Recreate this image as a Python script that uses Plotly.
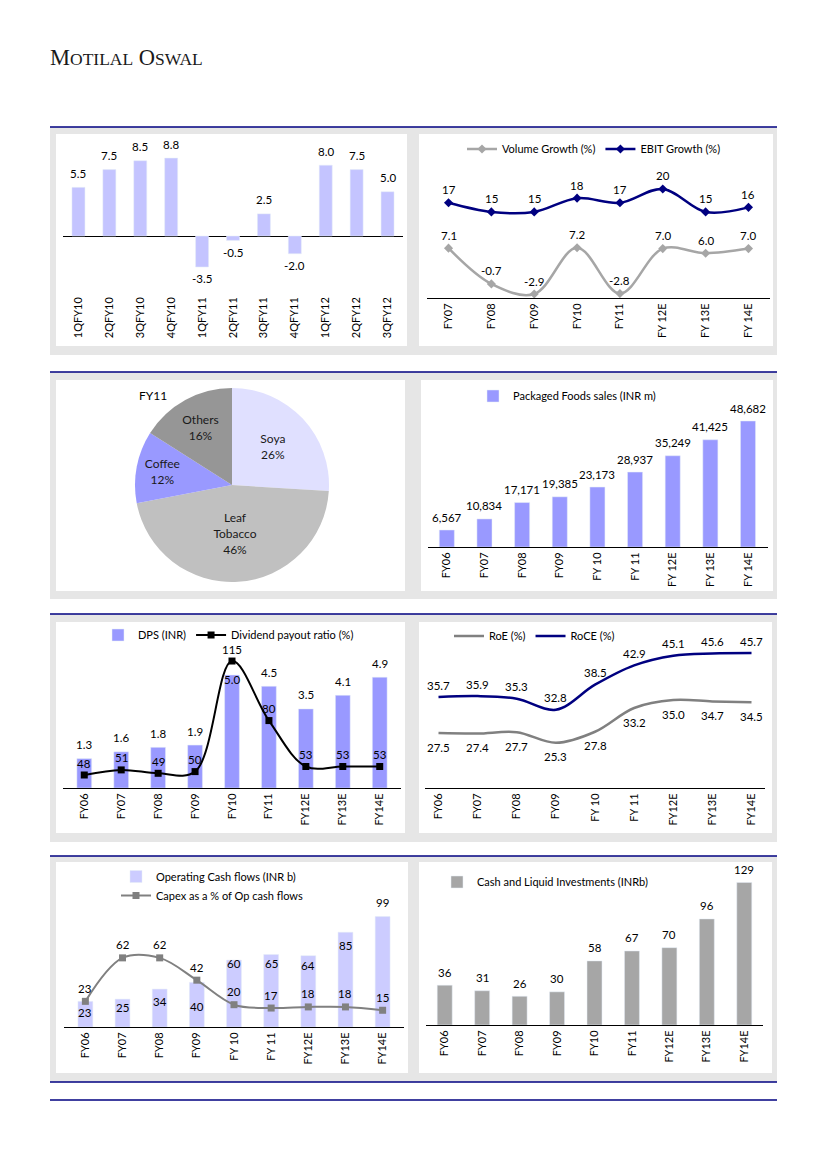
import plotly.graph_objects as go

W, H = 826, 1169
OFF = 8  # page body margin


def px(x):
    return (x - OFF) / W


def py(y):
    return 1 - (y - OFF) / H


def yrange(v0, p0, s, top, bot):
    # value v0 sits at pixel p0, s pixels per unit, domain from top to bot (pixels)
    return [v0 - (bot - p0) / s, v0 + (p0 - top) / s]


# ---------------- data ----------------
q_labels = ["1QFY10", "2QFY10", "3QFY10", "4QFY10", "1QFY11", "2QFY11",
            "3QFY11", "4QFY11", "1QFY12", "2QFY12", "3QFY12"]
q_growth = [5.5, 7.5, 8.5, 8.8, -3.5, -0.5, 2.5, -2.0, 8.0, 7.5, 5.0]

yr_growth = ["FY07", "FY08", "FY09", "FY10", "FY11", "FY 12E", "FY 13E", "FY 14E"]
vol_growth = [7.1, -0.7, -2.9, 7.2, -2.8, 7.0, 6.0, 7.0]
ebit_growth = [17, 15, 15, 18, 17, 20, 15, 16]

seg_labels = ["Soya", "Leaf<br>Tobacco", "Coffee", "Others"]
seg_share = [26, 46, 12, 16]

yr_pf = ["FY06", "FY07", "FY08", "FY09", "FY 10", "FY 11", "FY 12E", "FY 13E", "FY 14E"]
pf_sales = [6567, 10834, 17171, 19385, 23173, 28937, 35249, 41425, 48682]

yr_dps = ["FY06", "FY07", "FY08", "FY09", "FY10", "FY11", "FY12E", "FY13E", "FY14E"]
dps = [1.3, 1.6, 1.8, 1.9, 5.0, 4.5, 3.5, 4.1, 4.9]
payout = [48, 51, 49, 50, 115, 80, 53, 53, 53]

yr_ret = ["FY06", "FY07", "FY08", "FY09", "FY 10", "FY 11", "FY12E", "FY13E", "FY14E"]
roe = [27.5, 27.4, 27.7, 25.3, 27.8, 33.2, 35.0, 34.7, 34.5]
roce = [35.7, 35.9, 35.3, 32.8, 38.5, 42.9, 45.1, 45.6, 45.7]

yr_ocf = ["FY06", "FY07", "FY08", "FY09", "FY 10", "FY 11", "FY12E", "FY13E", "FY14E"]
ocf = [23, 25, 34, 40, 60, 65, 64, 85, 99]
capex_pct = [23, 62, 62, 42, 20, 17, 18, 18, 15]

yr_cash = ["FY06", "FY07", "FY08", "FY09", "FY10", "FY11", "FY12E", "FY13E", "FY14E"]
cash = [36, 31, 26, 30, 58, 67, 70, 96, 129]

# label offsets (style)
dps_shift = [14, 14, 14, 14, -4, 14, 14, 14, 14]
ocf_shift = [-11, -8, -12, -24, -3, -9, -10, -13, 14]

FONT = "Lato"
NAVY = "#000080"
LBL = 11.5

fig = go.Figure()

# ---------- panel 1: quarterly growth ----------
fig.add_trace(go.Bar(x=q_labels, y=q_growth, marker_color="#C4C4FF", width=0.42,
                     xaxis="x", yaxis="y", showlegend=False, hoverinfo="skip"))

# ---------- panel 2: volume / EBIT growth ----------
fig.add_trace(go.Scatter(x=yr_growth, y=vol_growth, name="Volume Growth (%)",
                         mode="lines+markers", line=dict(color="#A6A6A6", width=2.5, shape="spline"),
                         marker=dict(symbol="diamond", size=7, color="#A6A6A6"),
                         xaxis="x2", yaxis="y2", legend="legend", hoverinfo="skip"))
fig.add_trace(go.Scatter(x=yr_growth, y=ebit_growth, name="EBIT Growth (%)",
                         mode="lines+markers", line=dict(color=NAVY, width=2.5, shape="spline"),
                         marker=dict(symbol="diamond", size=7, color=NAVY),
                         xaxis="x2", yaxis="y2", legend="legend", hoverinfo="skip"))

# ---------- panel 3: pie ----------
fig.add_trace(go.Pie(labels=seg_labels, values=seg_share, sort=False, direction="clockwise",
                     rotation=0, showlegend=False, hoverinfo="skip",
                     marker=dict(colors=["#E0E0FF", "#C0C0C0", "#9999FF", "#969696"],
                                 line=dict(width=0)),
                     textinfo="label+percent", textposition="inside",
                     insidetextorientation="horizontal",
                     textfont=dict(size=12, color="#1a1a1a", family=FONT),
                     domain=dict(x=[px(135), px(329)], y=[py(582), py(388)])))

# ---------- panel 4: packaged foods ----------
fig.add_trace(go.Bar(x=yr_pf, y=pf_sales, name="Packaged Foods sales (INR m)",
                     marker_color="#9999FF", width=0.4, xaxis="x3", yaxis="y3",
                     legend="legend2", hoverinfo="skip"))

# ---------- panel 5: DPS / payout ----------
fig.add_trace(go.Bar(x=yr_dps, y=dps, name="DPS (INR)", marker_color="#9999FF", width=0.4,
                     xaxis="x4", yaxis="y4", legend="legend3", hoverinfo="skip"))
fig.add_trace(go.Scatter(x=yr_dps, y=payout, name="Dividend payout ratio (%)",
                         mode="lines+markers", line=dict(color="black", width=2, shape="spline"),
                         marker=dict(symbol="square", size=7, color="black"),
                         xaxis="x4", yaxis="y5", legend="legend3", hoverinfo="skip"))

# ---------- panel 6: RoE / RoCE ----------
fig.add_trace(go.Scatter(x=yr_ret, y=roe, name="RoE (%)", mode="lines",
                         line=dict(color="#808080", width=2.5, shape="spline"),
                         xaxis="x6", yaxis="y6", legend="legend4", hoverinfo="skip"))
fig.add_trace(go.Scatter(x=yr_ret, y=roce, name="RoCE (%)", mode="lines",
                         line=dict(color=NAVY, width=2.5, shape="spline"),
                         xaxis="x6", yaxis="y6", legend="legend4", hoverinfo="skip"))

# ---------- panel 7: OCF / capex ----------
fig.add_trace(go.Bar(x=yr_ocf, y=ocf, name="Operating Cash flows (INR b)", marker_color="#CCCCFF",
                     width=0.4, xaxis="x7", yaxis="y7", legend="legend5", hoverinfo="skip"))
fig.add_trace(go.Scatter(x=yr_ocf, y=capex_pct, name="Capex as a % of Op cash flows",
                         mode="lines+markers", line=dict(color="#808080", width=2, shape="spline"),
                         marker=dict(symbol="square", size=7, color="#808080"),
                         xaxis="x7", yaxis="y7", legend="legend5", hoverinfo="skip"))

# ---------- panel 8: cash ----------
fig.add_trace(go.Bar(x=yr_cash, y=cash, name="Cash and Liquid Investments (INRb)",
                     marker_color="#A6A6A6", width=0.4, xaxis="x8", yaxis="y8",
                     legend="legend6", hoverinfo="skip"))


# ---------- axes ----------
def xax(x0, x1, anchor, line=True):
    return dict(domain=[px(x0), px(x1)], anchor=anchor, showline=line, linecolor="black",
                linewidth=1, ticks="", showgrid=False, zeroline=False, tickangle=-90,
                tickfont=dict(size=11, color="black", family=FONT), fixedrange=True)


def yax(rng, top, bot, anchor, zero=False):
    return dict(domain=[py(bot), py(top)], range=rng, anchor=anchor, showticklabels=False,
                showgrid=False, ticks="", showline=False, zeroline=zero,
                zerolinecolor="black", zerolinewidth=1, fixedrange=True)


layout_axes = dict(
    xaxis=xax(63, 403, "y", line=False),
    yaxis=yax(yrange(0, 236, 8.85, 140, 294), 140, 294, "x", zero=True),
    xaxis2=xax(427, 770, "y2"),
    yaxis2=yax(yrange(0, 280.7, 4.585, 160, 298), 160, 298, "x2"),
    xaxis3=xax(428, 768, "y3"),
    yaxis3=yax(yrange(0, 547, 0.002588, 385, 547), 385, 547, "x3"),
    xaxis4=xax(63, 401, "y4"),
    yaxis4=yax(yrange(0, 788, 22.6, 652, 788), 652, 788, "x4"),
    yaxis5=dict(overlaying="y4", anchor="x4", side="right", range=yrange(48, 775, 1.701, 652, 788),
                showticklabels=False, showgrid=False, ticks="", showline=False, zeroline=False,
                fixedrange=True),
    xaxis6=xax(425, 765, "y6"),
    yaxis6=yax(yrange(35.7, 697, 4.4, 634, 788), 634, 788, "x6"),
    xaxis7=xax(64, 404, "y7"),
    yaxis7=yax(yrange(0, 1027, 1.115, 893, 1027), 893, 1027, "x7"),
    xaxis8=xax(426, 763, "y8"),
    yaxis8=yax(yrange(0, 1025, 1.105, 870, 1025), 870, 1025, "x8"),
)


def leg(x, y, orient="h"):
    return dict(x=px(x), y=py(y), xanchor="left", yanchor="middle", orientation=orient,
                bgcolor="rgba(0,0,0,0)", font=dict(size=11, color="black", family=FONT),
                itemwidth=30, tracegroupgap=0)


layout_legends = dict(
    legend=leg(462, 149),
    legend2=leg(473, 396),
    legend3=leg(98, 635),
    legend4=leg(449, 636),
    legend5=dict(leg(116, 886, "v")),
    legend6=leg(437, 882),
)

# ---------- background shapes ----------
shapes = []
rows = [
    (127, 355, 134, 346, (56, 407), (419, 773)),
    (372, 599, 380, 591, (56, 405), (421, 773)),
    (614, 842, 622, 833, (56, 405), (419, 772)),
    (856, 1082, 862, 1073, (56, 408), (419, 772)),
]
for line_y, gb, wt, wb, lx, rx in rows:
    shapes.append(dict(type="rect", xref="paper", yref="paper", x0=px(50), x1=px(777),
                       y0=py(gb), y1=py(line_y), fillcolor="#E6E6E6", line_width=0, layer="below"))
    for (a, b) in (lx, rx):
        shapes.append(dict(type="rect", xref="paper", yref="paper", x0=px(a), x1=px(b),
                           y0=py(wb), y1=py(wt), fillcolor="white", line_width=0, layer="below"))
for ly in [127, 372, 614, 856, 1082, 1100]:
    shapes.append(dict(type="line", xref="paper", yref="paper", x0=px(50), x1=px(777),
                       y0=py(ly), y1=py(ly), line=dict(color=NAVY, width=1.6), layer="below"))

# ---------- annotations ----------
ann = []


def add_labels(xref, yref, xs, ys, texts, shifts):
    for x, y, t, s in zip(xs, ys, texts, shifts):
        ann.append(dict(x=x, y=y, xref=xref, yref=yref, text=t, showarrow=False, yshift=s,
                        xanchor="center", yanchor="middle",
                        font=dict(size=LBL, color="black", family=FONT)))


add_labels("x", "y", q_labels, q_growth, [f"{v:.1f}" for v in q_growth],
           [14 if v >= 0 else -12 for v in q_growth])
add_labels("x2", "y2", yr_growth, ebit_growth, [f"{v:.0f}" for v in ebit_growth], [13] * 8)
add_labels("x2", "y2", yr_growth, vol_growth, [f"{v:.1f}" for v in vol_growth], [13] * 8)
add_labels("x3", "y3", yr_pf, pf_sales, [f"{v:,.0f}" for v in pf_sales], [13] * 9)
add_labels("x4", "y4", yr_dps, dps, [f"{v:.1f}" for v in dps], dps_shift)
add_labels("x4", "y5", yr_dps, payout, [f"{v:.0f}" for v in payout], [12] * 9)
add_labels("x6", "y6", yr_ret, roce, [f"{v:.1f}" for v in roce], [12] * 9)
add_labels("x6", "y6", yr_ret, roe, [f"{v:.1f}" for v in roe], [-14] * 9)
add_labels("x7", "y7", yr_ocf, ocf, [f"{v:.0f}" for v in ocf], ocf_shift)
add_labels("x7", "y7", yr_ocf, capex_pct, [f"{v:.0f}" for v in capex_pct], [13] * 9)
add_labels("x8", "y8", yr_cash, cash, [f"{v:.0f}" for v in cash], [13] * 9)

ann.append(dict(x=px(137), y=py(395), xref="paper", yref="paper", text="FY11", showarrow=False,
                xanchor="left", yanchor="middle", font=dict(size=12, color="black", family=FONT)))
ann.append(dict(x=px(48), y=py(58), xref="paper", yref="paper", showarrow=False,
                xanchor="left", yanchor="middle",
                text="M<span style='font-size:17.5px'>OTILAL</span> O<span style='font-size:17.5px'>SWAL</span>",
                font=dict(size=22.5, color="#1a1a1a", family="Liberation Serif")))

fig.update_layout(
    width=W, height=H, margin=dict(l=0, r=0, t=0, b=0),
    paper_bgcolor="white", plot_bgcolor="rgba(0,0,0,0)",
    font=dict(family=FONT, size=11, color="black"),
    shapes=shapes, annotations=ann, hovermode=False,
    **layout_axes, **layout_legends,
)

fig.write_html("out.html", config={"displayModeBar": False})
